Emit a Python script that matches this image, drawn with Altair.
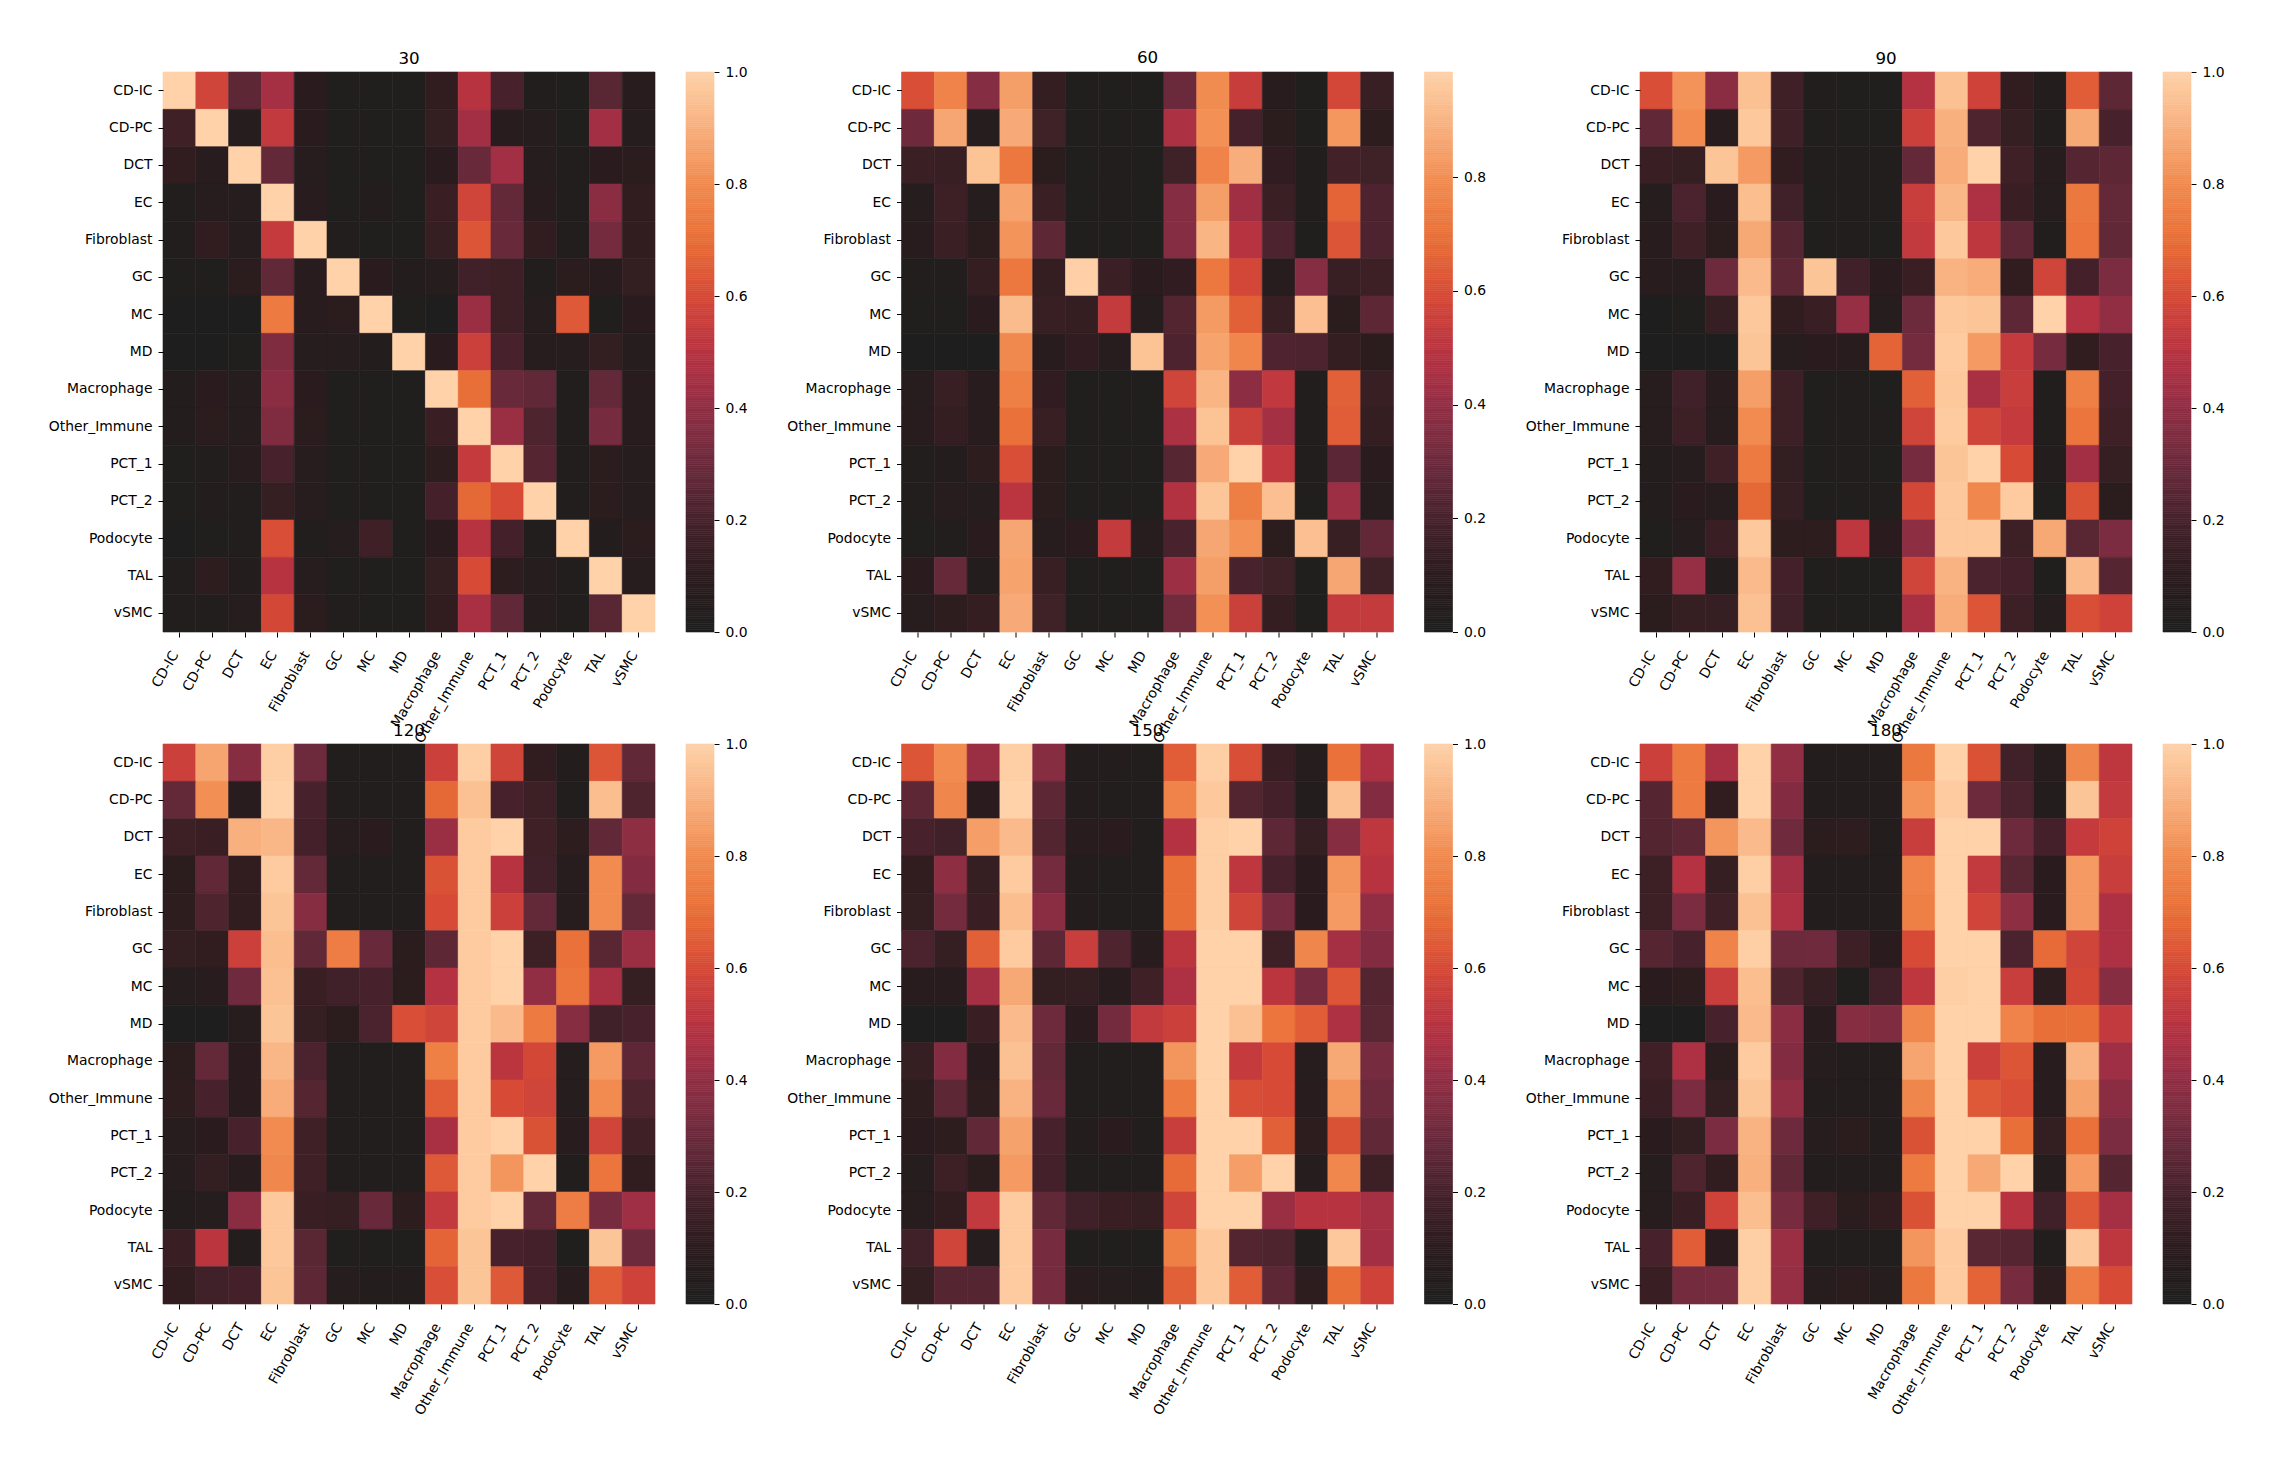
import altair as alt
import pandas as pd
import numpy as np

CATS = ["CD-IC","CD-PC","DCT","EC","Fibroblast","GC","MC","MD","Macrophage","Other_Immune","PCT_1","PCT_2","Podocyte","TAL","vSMC"]

D30 = [
[1.0,.58,.26,.45,.09,.02,.02,.02,.12,.50,.20,.03,.02,.25,.08],
[.17,1,.06,.53,.09,.02,.02,.02,.13,.44,.08,.05,.02,.44,.05],
[.12,.08,1,.28,.07,.02,.02,.02,.09,.29,.44,.06,.03,.09,.10],
[.03,.07,.05,1,.08,.02,.04,.02,.15,.58,.28,.08,.03,.38,.12],
[.03,.12,.05,.54,1,.03,.02,.02,.14,.63,.29,.12,.03,.32,.12],
[.02,.02,.10,.27,.08,1,.09,.04,.05,.18,.16,.03,.10,.08,.13],
[.01,.01,.01,.74,.08,.10,1,.02,.01,.42,.16,.05,.64,.02,.09],
[.01,.01,.02,.35,.05,.05,.04,1,.09,.56,.20,.07,.06,.13,.05],
[.04,.09,.05,.38,.09,.02,.02,.02,1,.70,.29,.27,.03,.28,.08],
[.04,.10,.05,.35,.10,.02,.02,.02,.15,1,.42,.22,.03,.33,.08],
[.02,.03,.08,.20,.07,.02,.02,.02,.11,.54,1,.24,.03,.10,.05],
[.02,.04,.03,.14,.07,.02,.02,.02,.19,.68,.60,1,.03,.10,.05],
[.01,.02,.03,.61,.03,.05,.17,.02,.09,.50,.19,.03,1,.04,.10],
[.03,.11,.04,.50,.07,.02,.02,.02,.13,.60,.11,.06,.03,1,.07],
[.03,.03,.06,.59,.10,.03,.02,.02,.12,.46,.27,.05,.03,.25,1],
]
D60 = [
[.60,.76,.36,.84,.13,.02,.02,.02,.29,.79,.54,.08,.02,.58,.14],
[.30,.86,.06,.87,.17,.02,.02,.02,.46,.80,.19,.10,.02,.82,.11],
[.15,.14,.94,.72,.10,.02,.03,.02,.17,.76,.88,.12,.03,.18,.17],
[.05,.16,.06,.85,.15,.02,.03,.02,.36,.84,.43,.15,.03,.66,.21],
[.08,.15,.10,.81,.26,.02,.02,.02,.36,.90,.49,.21,.02,.62,.21],
[.03,.03,.13,.72,.13,.98,.15,.09,.12,.72,.58,.07,.36,.14,.16],
[.02,.02,.09,.92,.14,.13,.53,.05,.23,.83,.65,.14,.93,.10,.26],
[.01,.01,.01,.78,.08,.12,.07,.94,.21,.85,.77,.22,.21,.13,.10],
[.07,.14,.08,.75,.12,.02,.02,.02,.57,.90,.38,.52,.03,.65,.14],
[.08,.13,.08,.70,.14,.02,.02,.02,.46,.94,.55,.44,.03,.64,.13],
[.03,.04,.11,.60,.10,.02,.02,.02,.24,.87,.985,.52,.03,.25,.09],
[.03,.07,.06,.50,.10,.02,.02,.02,.48,.95,.74,.93,.02,.42,.07],
[.02,.03,.09,.86,.07,.09,.53,.07,.20,.86,.80,.10,.93,.14,.27],
[.09,.28,.04,.85,.14,.02,.02,.02,.42,.84,.20,.17,.02,.86,.17],
[.07,.11,.13,.87,.17,.02,.02,.02,.31,.80,.55,.13,.02,.53,.53],
]
D90 = [
[.61,.82,.38,.95,.17,.03,.02,.02,.49,.95,.57,.12,.04,.65,.26],
[.27,.80,.08,.97,.17,.02,.02,.02,.56,.90,.22,.14,.03,.88,.20],
[.15,.14,.96,.84,.12,.03,.03,.03,.28,.89,1.0,.17,.07,.24,.26],
[.05,.21,.09,.94,.18,.02,.03,.03,.55,.92,.47,.15,.05,.73,.28],
[.08,.17,.10,.88,.24,.02,.03,.02,.53,.97,.52,.26,.03,.72,.27],
[.08,.07,.30,.93,.26,.96,.18,.09,.15,.91,.89,.12,.58,.19,.34],
[.01,.02,.14,.97,.12,.15,.41,.05,.30,.97,.96,.26,1.0,.49,.40],
[.01,.01,.01,.96,.07,.09,.08,.67,.32,.98,.84,.54,.33,.12,.20],
[.07,.18,.08,.85,.16,.02,.03,.02,.66,.97,.46,.55,.03,.76,.19],
[.07,.16,.07,.80,.16,.02,.03,.03,.58,.98,.58,.54,.03,.72,.17],
[.04,.05,.17,.74,.13,.02,.03,.02,.33,.96,1.0,.60,.04,.44,.14],
[.04,.09,.07,.68,.14,.02,.02,.03,.59,.97,.79,.98,.02,.62,.10],
[.02,.05,.15,.97,.11,.11,.52,.09,.39,.97,.97,.16,.88,.25,.34],
[.12,.41,.04,.93,.19,.02,.02,.02,.58,.91,.21,.19,.02,.93,.24],
[.10,.14,.14,.95,.18,.02,.02,.02,.46,.89,.63,.16,.05,.61,.57],
]
D120 = [
[.56,.87,.37,.99,.30,.03,.03,.03,.56,.99,.58,.12,.04,.63,.27],
[.28,.81,.08,1.0,.20,.03,.03,.03,.68,.95,.20,.16,.03,.94,.22],
[.16,.15,.90,.92,.19,.07,.09,.03,.42,.98,1.0,.17,.11,.27,.39],
[.10,.27,.12,.98,.28,.03,.03,.03,.62,.98,.50,.18,.07,.80,.36],
[.11,.22,.12,.96,.37,.03,.03,.03,.60,.98,.56,.28,.07,.80,.28],
[.13,.12,.56,.94,.27,.75,.29,.10,.26,.98,1.0,.16,.71,.25,.42],
[.05,.08,.31,.95,.15,.18,.20,.10,.49,.98,1.0,.40,.72,.46,.14],
[.01,.01,.07,.96,.14,.10,.21,.61,.58,.98,.93,.74,.37,.18,.20],
[.10,.28,.09,.92,.21,.03,.03,.03,.76,.98,.51,.59,.05,.84,.26],
[.11,.20,.09,.89,.24,.03,.03,.03,.65,.98,.60,.58,.06,.80,.22],
[.07,.09,.20,.80,.17,.03,.03,.03,.46,.98,1.0,.62,.08,.58,.17],
[.06,.13,.08,.79,.17,.03,.03,.03,.64,.98,.83,1.0,.03,.72,.12],
[.04,.05,.38,.97,.15,.14,.29,.11,.53,.98,1.0,.28,.75,.33,.43],
[.15,.51,.04,.97,.25,.02,.02,.02,.67,.96,.20,.19,.02,.96,.30],
[.12,.18,.19,.96,.26,.05,.04,.04,.61,.96,.64,.19,.08,.65,.57],
]
D150 = [
[.63,.80,.42,.99,.37,.04,.04,.03,.65,.99,.61,.15,.05,.71,.47],
[.26,.78,.09,1.0,.26,.04,.03,.03,.77,.97,.23,.19,.04,.95,.36],
[.20,.18,.85,.93,.23,.08,.09,.03,.49,.99,1.0,.26,.14,.37,.52],
[.12,.39,.14,.98,.32,.04,.03,.03,.70,.99,.52,.20,.09,.83,.50],
[.13,.32,.15,.94,.38,.04,.03,.03,.70,.99,.58,.33,.09,.84,.40],
[.21,.14,.66,.98,.26,.55,.22,.08,.51,1.0,1.0,.16,.78,.45,.36],
[.08,.08,.45,.88,.13,.13,.08,.17,.47,1.0,1.0,.51,.33,.63,.23],
[.01,.01,.15,.93,.30,.09,.32,.53,.56,1.0,.95,.72,.65,.47,.25],
[.14,.36,.09,.95,.28,.03,.03,.03,.83,1.0,.54,.60,.07,.88,.33],
[.11,.26,.11,.91,.29,.03,.03,.03,.74,1.0,.61,.60,.08,.83,.30],
[.09,.11,.27,.86,.20,.04,.09,.03,.55,1.0,1.0,.66,.11,.62,.27],
[.06,.16,.10,.84,.19,.03,.03,.03,.69,1.0,.85,1.0,.05,.79,.16],
[.07,.12,.53,.98,.27,.18,.15,.14,.58,1.0,1.0,.42,.50,.50,.45],
[.18,.58,.06,.98,.33,.02,.02,.02,.76,.97,.23,.22,.03,.97,.44],
[.13,.24,.24,.98,.33,.08,.05,.04,.66,.97,.65,.26,.11,.70,.57],
]
D180 = [
[.56,.74,.46,1.0,.40,.04,.04,.04,.73,1.0,.62,.18,.07,.78,.52],
[.24,.74,.12,1.0,.36,.04,.04,.04,.82,.98,.30,.21,.04,.96,.53],
[.23,.26,.83,.93,.31,.10,.11,.04,.55,1.0,1.0,.30,.19,.54,.57],
[.16,.49,.14,.99,.44,.04,.04,.04,.77,1.0,.53,.25,.09,.84,.55],
[.16,.34,.17,.95,.47,.04,.04,.04,.76,1.0,.58,.39,.09,.84,.47],
[.24,.20,.77,.99,.30,.31,.16,.09,.60,1.0,1.0,.21,.69,.58,.47],
[.09,.11,.55,.94,.22,.14,.02,.18,.52,.99,1.0,.55,.11,.59,.37],
[.01,.01,.20,.93,.38,.08,.37,.35,.79,1.0,1.0,.77,.70,.70,.53],
[.17,.47,.10,.98,.36,.05,.04,.04,.87,1.0,.56,.63,.08,.91,.43],
[.15,.34,.13,.96,.40,.04,.04,.04,.78,1.0,.64,.61,.08,.86,.38],
[.09,.13,.34,.91,.30,.07,.10,.04,.62,1.0,1.0,.70,.13,.71,.34],
[.06,.22,.12,.90,.27,.04,.04,.04,.74,1.0,.88,1.0,.05,.84,.24],
[.07,.15,.57,.94,.33,.17,.10,.12,.62,1.0,1.0,.50,.18,.64,.45],
[.20,.65,.09,.99,.42,.03,.03,.03,.83,.98,.25,.24,.03,.97,.52],
[.15,.32,.33,.99,.41,.07,.10,.05,.73,.98,.67,.33,.11,.75,.60],
]
PANELS = [("30",D30,1.0),("60",D60,0.985),("90",D90,1.0),("120",D120,1.0),("150",D150,1.0),("180",D180,1.0)]
RAMP = ["#1e1e1e","#2b1c1e","#47222c","#6c2a3c","#922e44","#b83340","#d64a36","#e96f38","#f18b50","#f8b07f","#ffd2a9"]

PW, PH = 492, 560
CB_X0, CB_X1 = 523, 551
FONT = "DejaVu Sans"
FS = 13.9


def panel(title, matrix, vmax):
    rows = [{"row": CATS[i], "col": CATS[j], "value": v} for i, r in enumerate(matrix) for j, v in enumerate(r)]
    cells = pd.DataFrame(rows)
    edges = np.linspace(0, vmax, 257)
    bar = pd.DataFrame({"level": edges[:-1], "next": edges[1:]})
    color = alt.Scale(domain=[vmax * i / 10 for i in range(11)], range=RAMP)
    heat = alt.Chart(cells).mark_rect(strokeWidth=0.6).encode(
        x=alt.X("col:N", sort=CATS, title=None,
                scale=alt.Scale(domain=CATS, range=[0, PW], paddingInner=0, paddingOuter=0),
                axis=alt.Axis(labelAngle=300, labelAlign="right", labelBaseline="middle", labelOverlap=False,
                              labelPadding=15, labelOffset=-4, tickSize=5, tickColor="#000", domain=False, grid=False,
                              labelFontSize=FS, labelFont=FONT, labelColor="#000", labelLimit=300)),
        y=alt.Y("row:N", sort=CATS, title=None,
                scale=alt.Scale(domain=CATS, paddingInner=0, paddingOuter=0),
                axis=alt.Axis(labelOverlap=False, labelPadding=6, tickSize=5, tickColor="#000", domain=False, grid=False,
                              labelFontSize=FS, labelFont=FONT, labelColor="#000", labelLimit=300)),
        color=alt.Color("value:Q", scale=color, legend=None),
        stroke=alt.Stroke("value:Q", scale=color, legend=None),
    )
    ticks = [t for t in [0, .2, .4, .6, .8, 1.0] if t <= vmax]
    cb = alt.Chart(bar).mark_rect(strokeWidth=0.6).encode(
        x=alt.value(CB_X0), x2=alt.value(CB_X1),
        y=alt.Y("level:Q", title=None, scale=alt.Scale(domain=[0, vmax], nice=False, zero=False),
                axis=alt.Axis(orient="right", values=ticks, format=".1f", tickSize=5, tickColor="#000", domain=False,
                              grid=False, labelPadding=6, labelFontSize=FS, labelFont=FONT, labelColor="#000")),
        y2="next:Q",
        color=alt.Color("level:Q", scale=color, legend=None),
        stroke=alt.Stroke("level:Q", scale=color, legend=None),
    )
    return alt.layer(heat, cb).resolve_scale(y="independent").properties(
        width=CB_X1, height=PH,
        title=alt.TitleParams(title, fontSize=16.7, fontWeight="normal", font=FONT, color="#000",
                              anchor="middle", dx=(PW - CB_X1) / 2, offset=(-3 if vmax == 1.0 else 5)),
    )


chart = alt.concat(*[panel(*p) for p in PANELS], columns=3, bounds="flush",
                   spacing=alt.RowColnumber(column=187.5, row=112)).resolve_scale(
    color="independent", stroke="independent"
).configure_view(stroke=None).properties(
    padding={"left": 40, "top": 42, "right": 5, "bottom": 5}
)

chart.save("out.html", embed_options={"renderer": "svg", "actions": False})
